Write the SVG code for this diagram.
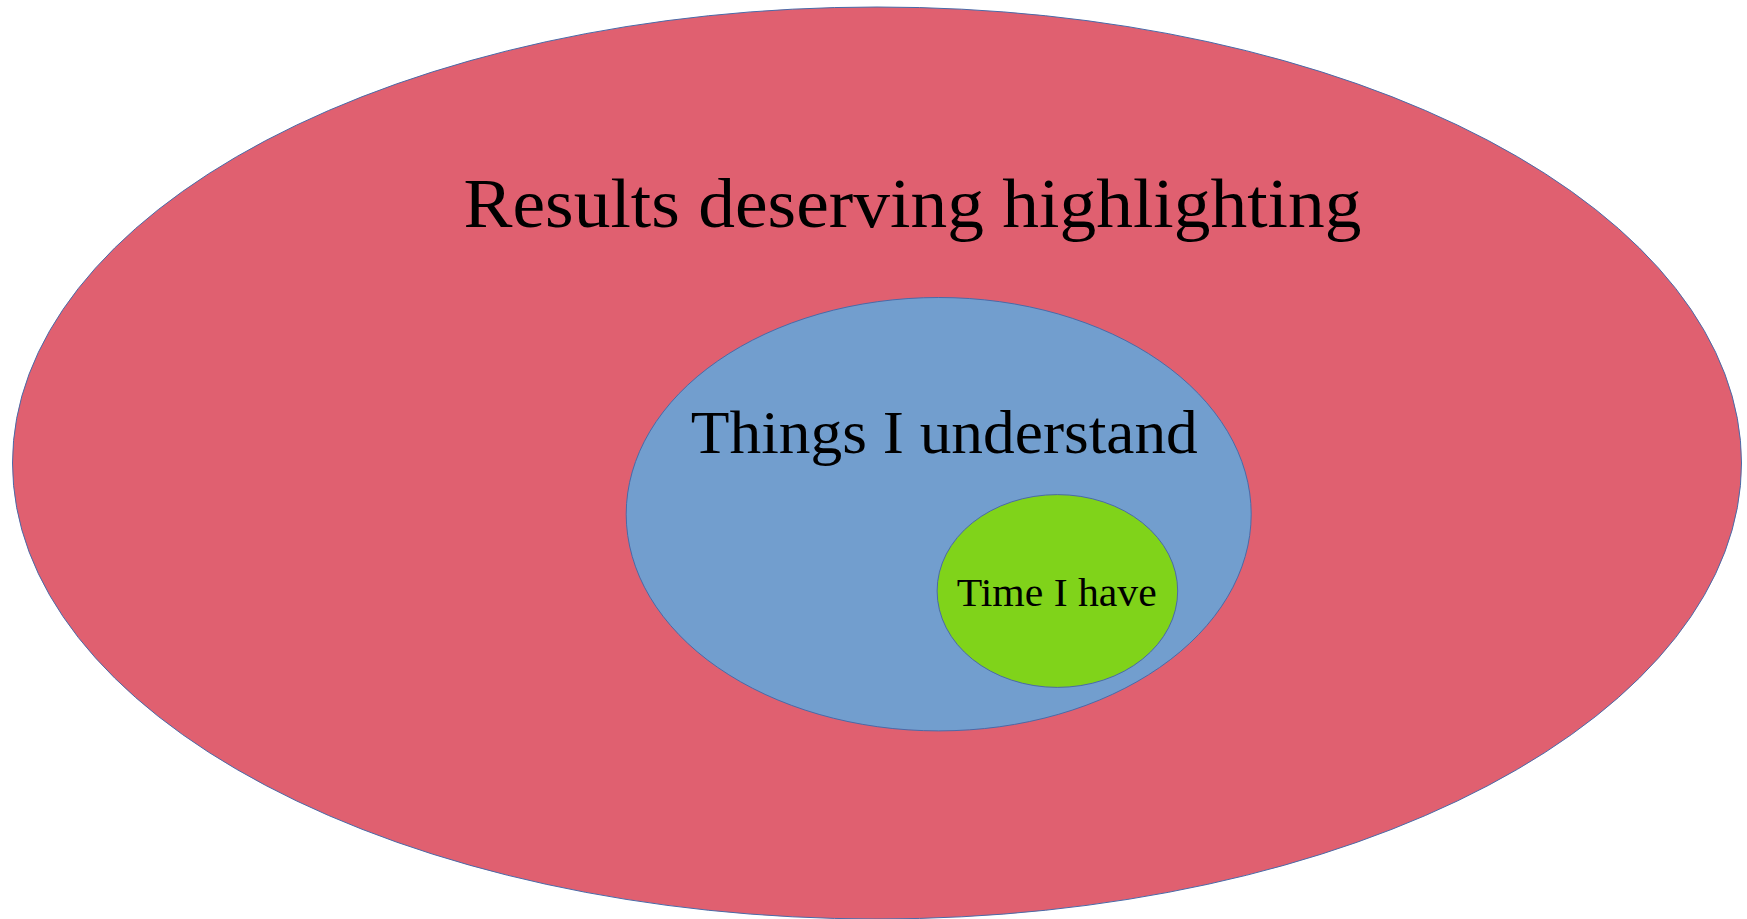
<svg xmlns="http://www.w3.org/2000/svg" width="1747" height="919" viewBox="0 0 1747 919">
<style>
.e{stroke:#4a6aa8;stroke-width:1}
.t{font-family:"Liberation Serif","DejaVu Serif",serif;fill:#000;text-anchor:middle}
</style>
<rect width="1747" height="919" fill="#fff"/>
<g id="results">
<ellipse class="e" cx="877" cy="463" rx="864.5" ry="456" fill="#e06070"/>
<text class="t" x="912.5" y="227" font-size="69" textLength="898" lengthAdjust="spacingAndGlyphs">Results deserving highlighting</text>
</g>
<g id="things">
<ellipse class="e" cx="938.7" cy="514.2" rx="312.5" ry="216.7" fill="#729ece"/>
<text class="t" x="944.3" y="453" font-size="62" textLength="507" lengthAdjust="spacingAndGlyphs">Things I understand</text>
</g>
<g id="time">
<ellipse class="e" cx="1057.4" cy="591" rx="120.3" ry="96.4" fill="#80d31a"/>
<text class="t" x="1056.7" y="606" font-size="40" textLength="200" lengthAdjust="spacingAndGlyphs">Time I have</text>
</g>
<g id="connectors"/>
</svg>
